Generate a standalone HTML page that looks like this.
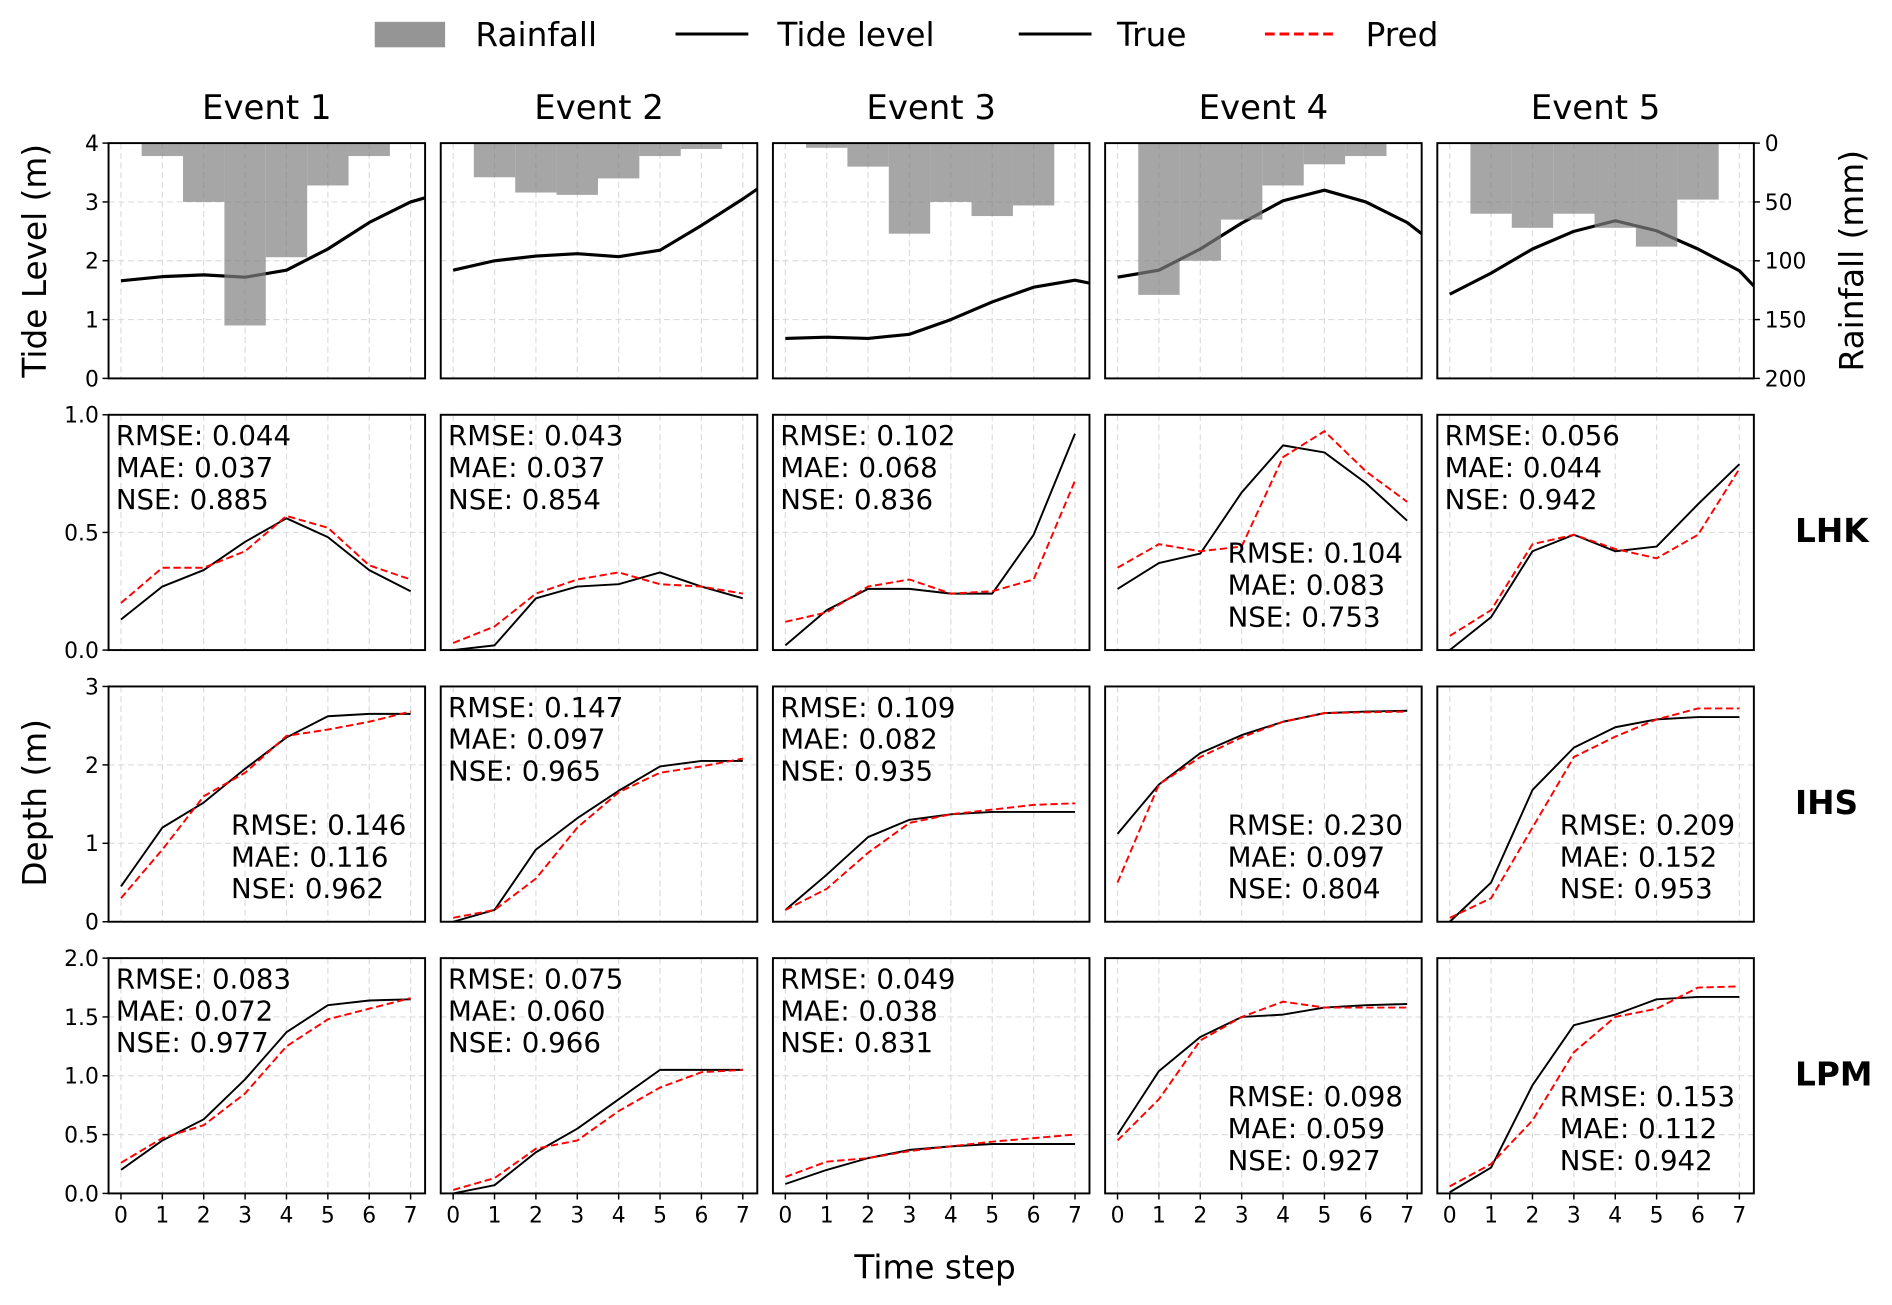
<!DOCTYPE html>
<html><head><meta charset="utf-8">
<style>
html,body{margin:0;padding:0;background:#fff;}
svg{display:block;font-family:"DejaVu Sans","Liberation Sans",sans-serif;}
</style></head>
<body>
<svg id="fig" width="1892" height="1305" viewBox="0 0 1560 1076" xmlns="http://www.w3.org/2000/svg">
  <g>
    <rect x="309" y="18" width="58" height="21" fill="#959595"/>
    <text x="392" y="38" font-size="27">Rainfall</text>
    <line x1="557" y1="28" x2="617" y2="28" stroke="#000" stroke-width="2.5"/>
    <text x="641" y="38" font-size="27">Tide level</text>
    <line x1="840" y1="28" x2="900" y2="28" stroke="#000" stroke-width="2.5"/>
    <text x="921" y="38" font-size="27">True</text>
    <line x1="1043" y1="28" x2="1101" y2="28" stroke="#f00" stroke-width="2.5" stroke-dasharray="8,4"/>
    <text x="1126" y="38" font-size="27">Pred</text>
  </g>
  <text transform="translate(38,215) rotate(-90)" text-anchor="middle" font-size="27">Tide Level (m)</text>
  <text transform="translate(1536,215) rotate(-90)" text-anchor="middle" font-size="27">Rainfall (mm)</text>
  <text transform="translate(38,662) rotate(-90)" text-anchor="middle" font-size="27">Depth (m)</text>
  <text x="771" y="1054" text-anchor="middle" font-size="27">Time step</text>
  <text x="1480" y="447" font-size="27" font-weight="bold">LHK</text>
  <text x="1480" y="671" font-size="27" font-weight="bold">IHS</text>
  <text x="1480" y="895" font-size="27" font-weight="bold">LPM</text>
</svg>
<script>
const events = ["Event 1","Event 2","Event 3","Event 4","Event 5"];
const steps = [0,1,2,3,4,5,6,7];
const tideX = [0,1,2,3,4,5,6,7,7.35];
const tide1 = [1.66,1.73,1.76,1.72,1.84,2.2,2.65,3.0,3.07];
const tide2 = [1.84,2.0,2.08,2.12,2.07,2.18,2.6,3.05,3.22];
const tide3 = [0.68,0.7,0.68,0.75,1.0,1.3,1.55,1.67,1.62];
const tide4 = [1.72,1.84,2.2,2.64,3.02,3.2,3.0,2.65,2.46];
const tide5 = [1.43,1.79,2.2,2.5,2.68,2.51,2.2,1.83,1.57];
const rainX = [1,2,3,4,5,6];
const rain1 = [11,50,155,97,36,11];
const rain2 = [29,42,44,30,11,5];
const rain3 = [4,20,77,50,62,53];
const rain4 = [129,100,65,36,18,11];
const rain5 = [60,72,60,72,88,48];
const tideTicks = [0,1,2,3,4];
const rainTicks = [0,50,100,150,200];
const models = ["LHK","IHS","LPM"];
const lhkTrue = [[0.13,0.27,0.34,0.46,0.56,0.48,0.34,0.25],[0.0,0.02,0.22,0.27,0.28,0.33,0.27,0.22],[0.02,0.17,0.26,0.26,0.24,0.24,0.49,0.92],[0.26,0.37,0.41,0.67,0.87,0.84,0.71,0.55],[0.0,0.14,0.42,0.49,0.42,0.44,0.62,0.79]];
const lhkPred = [[0.2,0.35,0.35,0.42,0.57,0.52,0.36,0.3],[0.03,0.1,0.24,0.3,0.33,0.28,0.27,0.24],[0.12,0.16,0.27,0.3,0.24,0.25,0.3,0.72],[0.35,0.45,0.42,0.44,0.82,0.93,0.76,0.63],[0.06,0.17,0.45,0.49,0.43,0.39,0.49,0.77]];
const ihsTrue = [[0.45,1.2,1.52,1.95,2.35,2.62,2.65,2.65],[0.0,0.15,0.92,1.32,1.67,1.98,2.05,2.05],[0.15,0.6,1.08,1.3,1.37,1.4,1.4,1.4],[1.12,1.75,2.15,2.38,2.55,2.66,2.68,2.69],[0.0,0.5,1.68,2.22,2.48,2.58,2.61,2.61]];
const ihsPred = [[0.3,0.92,1.6,1.9,2.37,2.45,2.55,2.68],[0.05,0.15,0.55,1.2,1.65,1.9,1.98,2.08],[0.15,0.42,0.88,1.26,1.37,1.43,1.49,1.51],[0.5,1.75,2.1,2.35,2.55,2.66,2.67,2.68],[0.05,0.3,1.2,2.1,2.36,2.58,2.72,2.72]];
const lpmTrue = [[0.2,0.45,0.63,0.97,1.37,1.6,1.64,1.65],[0.0,0.07,0.35,0.55,0.8,1.05,1.05,1.05],[0.08,0.2,0.3,0.37,0.4,0.42,0.42,0.42],[0.5,1.04,1.33,1.5,1.52,1.58,1.6,1.61],[0.01,0.22,0.92,1.43,1.52,1.65,1.67,1.67]];
const lpmPred = [[0.26,0.47,0.58,0.85,1.25,1.48,1.57,1.66],[0.03,0.13,0.38,0.45,0.7,0.9,1.03,1.05],[0.14,0.27,0.3,0.36,0.4,0.44,0.47,0.5],[0.45,0.8,1.3,1.5,1.63,1.58,1.58,1.58],[0.06,0.25,0.62,1.2,1.5,1.57,1.75,1.76]];
const lhkTicks = ["0.0","0.5","1.0"];
const ihsTicks = ["0","1","2","3"];
const lpmTicks = ["0.0","0.5","1.0","1.5","2.0"];
const lhkMetrics = [["0.044","0.037","0.885"],["0.043","0.037","0.854"],["0.102","0.068","0.836"],["0.104","0.083","0.753"],["0.056","0.044","0.942"]];
const ihsMetrics = [["0.146","0.116","0.962"],["0.147","0.097","0.965"],["0.109","0.082","0.935"],["0.230","0.097","0.804"],["0.209","0.152","0.953"]];
const lpmMetrics = [["0.083","0.072","0.977"],["0.075","0.060","0.966"],["0.049","0.038","0.831"],["0.098","0.059","0.927"],["0.153","0.112","0.942"]];
const lhkPos = [0,0,0,1,0];
const ihsPos = [1,0,0,1,1];
const lpmPos = [0,0,0,1,1];

const NS = "http://www.w3.org/2000/svg";
const svg = document.getElementById("fig");
const W = 261, H = 194, XMIN = -0.3, XMAX = 7.35;
const colLeft = i => 89.5 + 273.9 * i;
const rowTop = r => 118 + 224 * r;
function mk(tag, attrs, parent) {
  const e = document.createElementNS(NS, tag);
  for (const k in attrs) e.setAttribute(k, attrs[k]);
  (parent || svg).appendChild(e);
  return e;
}
function xs(c, v) { return colLeft(c) + (v - XMIN) / (XMAX - XMIN) * W; }
function ys(r, v, lo, hi) { return rowTop(r) + H - (v - lo) / (hi - lo) * H; }

function frame(c, r, g, yTickVals, lo, hi, showX) {
  for (const v of steps) {
    const gl = mk("line", {x1: xs(c, v), x2: xs(c, v), y1: rowTop(r), y2: rowTop(r) + H, stroke: "#dddddd", "stroke-width": 1, "stroke-dasharray": "5,3"}, g);
    
    
  }
  for (const v of yTickVals) {
    const val = parseFloat(v);
    if (val > lo && val < hi) {
      const gl = mk("line", {x1: colLeft(c), x2: colLeft(c) + W, y1: ys(r, val, lo, hi), y2: ys(r, val, lo, hi), stroke: "#dddddd", "stroke-width": 1, "stroke-dasharray": "5,3"}, g);
      
      
    }
    if (c === 0) {
      const tk = mk("line", {x1: colLeft(c) - 5, x2: colLeft(c), y1: ys(r, val, lo, hi), y2: ys(r, val, lo, hi), stroke: "#000", "stroke-width": 1.2}, g);
      
      
      const t = mk("text", {x: colLeft(c) - 8, y: ys(r, val, lo, hi) + 6.5, "text-anchor": "end", "font-size": 18}, g);
      t.textContent = v;
      
      
    }
  }
  if (showX) {
    for (const v of steps) {
      const tk = mk("line", {x1: xs(c, v), x2: xs(c, v), y1: rowTop(r) + H, y2: rowTop(r) + H + 5, stroke: "#000", "stroke-width": 1.2}, g);
      
      
      const t = mk("text", {x: xs(c, v), y: rowTop(r) + H + 24, "text-anchor": "middle", "font-size": 18}, g);
      t.textContent = v;
      
      
    }
  }
}
function border(c, r, g) {
  const b = mk("rect", {x: colLeft(c), y: rowTop(r), width: W, height: H, fill: "none", stroke: "#000", "stroke-width": 1.6}, g);
  
  
}
function pathOf(c, r, xsArr, vals, lo, hi) {
  return vals.map((v, i) => (i ? "L" : "M") + xs(c, xsArr[i]).toFixed(2) + "," + ys(r, v, lo, hi).toFixed(2)).join(" ");
}

const tides = [tide1, tide2, tide3, tide4, tide5];
const rains = [rain1, rain2, rain3, rain4, rain5];
for (let c = 0; c < 5; c++) {
  const g = mk("g", {});
  
  
  const title = mk("text", {x: colLeft(c) + W / 2, y: 98, "text-anchor": "middle", "font-size": 28}, g);
  title.textContent = events[c];
  
  
  frame(c, 0, g, tideTicks.map(String), 0, 4, false);
  const cp = mk("clipPath", {id: "clip" + c}, g);
  mk("rect", {x: colLeft(c), y: rowTop(0), width: W, height: H}, cp);
  const tl = mk("path", {d: pathOf(c, 0, tideX, tides[c], 0, 4), fill: "none", stroke: "#000", "stroke-width": 2.6, "stroke-linejoin": "round", "clip-path": "url(#clip" + c + ")"}, g);
  
  
  rains[c].forEach((v, i) => {
    const x0 = xs(c, rainX[i] - 0.5), x1 = xs(c, rainX[i] + 0.5);
    const y0 = rowTop(0), h = v / 200 * H;
    const b = mk("rect", {x: x0, y: y0, width: x1 - x0, height: h, fill: "#808080", "fill-opacity": 0.7}, g);
    
    
  });
  border(c, 0, g);
  if (c === 4) {
    rainTicks.forEach(v => {
      const y = rowTop(0) + v / 200 * H;
      const tk = mk("line", {x1: colLeft(c) + W, x2: colLeft(c) + W + 5, y1: y, y2: y, stroke: "#000", "stroke-width": 1.2}, g);
      
      
      const t = mk("text", {x: colLeft(c) + W + 9, y: y + 6.5, "font-size": 18}, g);
      t.textContent = v;
      
      
    });
  }
}

const rowsTrue = [lhkTrue, ihsTrue, lpmTrue];
const rowsPred = [lhkPred, ihsPred, lpmPred];
const rowsTicks = [lhkTicks, ihsTicks, lpmTicks];
const rowsMetrics = [lhkMetrics, ihsMetrics, lpmMetrics];
const rowsPos = [lhkPos, ihsPos, lpmPos];
for (let m = 0; m < 3; m++) {
  const r = m + 1;
  const ticks = rowsTicks[m];
  const lo = parseFloat(ticks[0]), hi = parseFloat(ticks[ticks.length - 1]);
  for (let c = 0; c < 5; c++) {
    const g = mk("g", {});
    
    
    frame(c, r, g, ticks, lo, hi, r === 3);
    const tl = mk("path", {d: pathOf(c, r, steps, rowsTrue[m][c], lo, hi), fill: "none", stroke: "#000", "stroke-width": 1.6, "stroke-linejoin": "round"}, g);
    
    
    const pl = mk("path", {d: pathOf(c, r, steps, rowsPred[m][c], lo, hi), fill: "none", stroke: "#ff0000", "stroke-width": 1.6, "stroke-dasharray": "6,3"}, g);
    
    
    border(c, r, g);
    const met = rowsMetrics[m][c];
    const labels = ["RMSE: ", "MAE: ", "NSE: "];
    const br = rowsPos[m][c] === 1;
    const tx = colLeft(c) + (br ? 101 : 6);
    const ty0 = rowTop(r) + (br ? 122 : 25);
    met.forEach((v, i) => {
      const t = mk("text", {x: tx, y: ty0 + i * 26.3, "font-size": 22.8}, g);
      t.textContent = labels[i] + v;
      
      
    });
  }
}
</script>
</body></html>
